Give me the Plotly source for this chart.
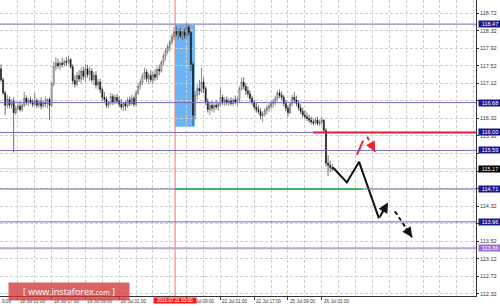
import plotly.graph_objects as go

# ---------------- data (USDJPY H1) ----------------
opens = [117.45,117.20,116.90,116.62,116.75,116.62,116.72,116.45,116.55,116.60,
         116.52,116.62,116.78,116.68,116.74,116.70,116.64,116.72,116.62,116.70,
         116.60,116.68,116.66,116.75,116.62,117.10,117.50,117.58,117.52,117.58,
         117.55,117.62,117.60,117.66,117.50,117.18,117.10,117.30,117.22,117.40,
         117.28,117.45,117.32,117.40,117.20,117.30,117.08,117.15,116.98,116.80,
         116.75,116.62,116.68,116.82,116.70,116.80,116.72,116.64,116.58,116.66,
         116.60,116.74,116.66,116.78,116.64,116.90,117.05,117.15,117.28,117.38,
         117.22,117.30,117.20,117.32,117.26,117.44,117.40,117.60,117.74,117.86,
         117.95,118.06,118.18,118.30,118.24,118.30,118.20,118.28,118.22,118.40,
         118.28,117.55,116.40,116.85,117.00,116.95,117.15,117.00,116.70,116.52,
         116.62,116.55,116.62,116.58,116.65,116.80,116.70,116.74,116.68,116.72,
         116.66,116.74,116.70,116.76,117.00,117.15,117.05,116.95,116.88,116.78,
         116.68,116.58,116.52,116.48,116.38,116.42,116.50,116.56,116.60,116.66,
         116.70,116.78,116.90,116.84,116.80,116.66,116.55,116.45,116.65,116.80,
         116.74,116.66,116.56,116.48,116.40,116.36,116.32,116.28,116.24,116.22,
         116.28,116.20,116.24,116.28,116.05,115.30,115.25,115.20]
highs = [117.55,117.25,116.95,116.85,116.82,116.75,116.80,116.62,116.70,116.72,
         116.66,116.92,116.85,116.78,116.82,116.76,116.90,116.78,116.75,116.80,
         116.74,116.82,116.78,116.80,117.15,117.62,117.72,117.68,117.62,117.70,
         117.66,117.72,117.74,117.70,117.55,117.30,117.38,117.42,117.48,117.50,
         117.56,117.54,117.50,117.46,117.38,117.40,117.22,117.22,117.02,116.92,
         116.82,116.72,116.90,116.88,116.86,116.88,116.82,116.76,116.70,116.72,
         116.80,116.82,116.86,116.84,116.96,117.12,117.22,117.34,117.48,117.45,
         117.36,117.42,117.38,117.44,117.50,117.55,117.65,117.80,117.92,118.02,
         118.12,118.25,118.40,118.42,118.36,118.38,118.34,118.36,118.50,118.46,
         118.32,117.60,116.95,117.10,117.20,117.48,117.25,117.05,116.78,116.70,
         116.72,116.68,116.74,116.70,117.02,116.86,116.80,116.82,116.78,116.80,
         116.78,116.84,116.80,117.05,117.25,117.26,117.12,117.05,116.96,116.84,
         116.74,116.68,116.62,116.56,116.48,116.55,116.62,116.66,116.72,116.76,
         116.84,116.96,116.98,116.94,116.86,116.74,116.62,116.70,116.86,116.92,
         116.84,116.74,116.64,116.56,116.50,116.45,116.40,116.36,116.32,116.34,
         116.36,116.30,116.34,116.30,116.10,115.48,115.36,115.28]
lows = [117.15,116.85,116.40,116.55,116.55,116.55,115.54,116.40,116.50,116.48,
        116.47,116.58,116.62,116.60,116.64,116.58,116.60,116.55,116.57,116.52,
        116.56,116.58,116.55,116.28,116.58,117.05,117.40,117.45,117.42,117.48,
        117.50,117.52,117.55,117.45,117.10,117.02,117.05,117.15,117.12,117.20,
        117.15,117.25,117.18,117.14,117.08,117.00,116.98,116.90,116.72,116.68,
        116.55,116.55,116.62,116.62,116.64,116.66,116.58,116.52,116.48,116.50,
        116.56,116.60,116.62,116.58,116.60,116.86,116.98,117.08,117.20,117.15,
        117.10,117.14,117.10,117.18,117.20,117.30,117.36,117.52,117.64,117.78,
        117.86,118.00,118.10,118.18,118.12,118.15,118.10,118.14,118.16,118.20,
        117.40,116.15,116.30,116.75,116.85,116.90,116.90,116.62,116.45,116.40,
        116.48,116.45,116.52,116.50,116.60,116.62,116.60,116.62,116.60,116.62,
        116.60,116.64,116.60,116.70,116.95,116.98,116.85,116.80,116.70,116.62,
        116.52,116.45,116.42,116.30,116.24,116.36,116.40,116.46,116.52,116.56,
        116.62,116.72,116.78,116.74,116.60,116.48,116.36,116.42,116.60,116.68,
        116.60,116.50,116.42,116.34,116.30,116.26,116.22,116.18,116.16,116.18,
        116.16,116.14,116.18,116.00,115.22,115.00,115.10,115.12]
closes = [117.20,116.90,116.62,116.75,116.62,116.68,116.45,116.55,116.60,116.52,
          116.62,116.78,116.68,116.74,116.70,116.64,116.72,116.62,116.70,116.60,
          116.68,116.66,116.75,116.62,117.10,117.50,117.58,117.52,117.58,117.55,
          117.62,117.60,117.66,117.50,117.18,117.10,117.30,117.22,117.40,117.28,
          117.45,117.32,117.40,117.20,117.30,117.08,117.15,116.98,116.80,116.75,
          116.62,116.68,116.82,116.70,116.80,116.72,116.64,116.58,116.66,116.60,
          116.74,116.66,116.78,116.64,116.90,117.05,117.15,117.28,117.38,117.22,
          117.30,117.20,117.32,117.26,117.44,117.40,117.60,117.74,117.86,117.95,
          118.06,118.18,118.30,118.24,118.30,118.20,118.28,118.22,118.40,118.28,
          117.55,116.40,116.85,117.00,116.95,117.15,117.00,116.70,116.52,116.62,
          116.55,116.62,116.58,116.65,116.80,116.70,116.74,116.68,116.72,116.66,
          116.74,116.70,116.76,117.00,117.15,117.05,116.95,116.88,116.78,116.68,
          116.58,116.52,116.48,116.38,116.42,116.50,116.56,116.60,116.66,116.70,
          116.78,116.90,116.84,116.80,116.66,116.55,116.45,116.65,116.80,116.74,
          116.66,116.56,116.48,116.40,116.36,116.32,116.28,116.24,116.22,116.28,
          116.20,116.24,116.28,116.05,115.30,115.25,115.20,115.17]
bars = list(range(len(closes)))

price_ticks = [112.32, 112.72, 113.12, 113.52, 113.92, 114.32, 114.72, 115.12,
               115.52, 115.92, 116.32, 116.72, 117.12, 117.52, 117.92, 118.32, 118.72]
date_tick_bars = [8, 24, 40, 56, 88, 104, 120, 136, 152]
date_tick_labels = ["18 Jul 01:00", "18 Jul 17:00", "19 Jul 09:00", "20 Jul 01:00",
                    "21 Jul 09:00", "22 Jul 01:00", "22 Jul 17:00", "25 Jul 09:00",
                    "26 Jul 01:00"]
edge_label = "9:00"   # tail of the label cut off at the left edge

levels = [118.47, 116.68, 116.00, 115.59, 114.71, 113.96]
purple_level = 113.36
bid_price = 115.17
vline_bar = 82.5
vline_label = "2016.07.21 03:00"
box_bars = [82.5, 91.9]
box_prices = [116.13, 118.45]
red_level = 116.00
red_level_start = 147.9
green_level = 114.71
green_span = [82.5, 171.6]

fc_x = [157.3, 163.9, 169.7, 179.1]
fc_y = [115.20, 114.86, 115.33, 114.04]
fc_up_x = [179.1, 183.4]
fc_up_y = [114.04, 114.40]
fc_dn_x = [186.7, 194.8]
fc_dn_y = [114.20, 113.61]
red_x = [168.7, 171.6]
red_y = [115.49, 115.81]
red_arr_x = [173.5, 177.3]
red_arr_y = [115.90, 115.56]

x_range = [-0.47, 225.1]
y_range = [112.27, 119.02]

# ---------------- figure ----------------
fig = go.Figure()
fig.add_trace(go.Candlestick(
    x=bars, open=opens, high=highs, low=lows, close=closes,
    increasing=dict(line=dict(color="#444444", width=0.6), fillcolor="#ffffff"),
    decreasing=dict(line=dict(color="#111111", width=0.6), fillcolor="#111111"),
    whiskerwidth=0, hoverinfo="skip", showlegend=False))

fig.add_trace(go.Scatter(x=fc_x, y=fc_y, mode="lines",
                         line=dict(color="#111111", width=2),
                         hoverinfo="skip", showlegend=False))
fig.add_trace(go.Scatter(x=fc_dn_x, y=fc_dn_y, mode="lines",
                         line=dict(color="#111111", width=2, dash="4px,3px"),
                         hoverinfo="skip", showlegend=False))
fig.add_trace(go.Scatter(x=red_x, y=red_y, mode="lines",
                         line=dict(color="#ee2233", width=2),
                         hoverinfo="skip", showlegend=False))
fig.add_trace(go.Scatter(x=red_arr_x, y=red_arr_y, mode="lines",
                         line=dict(color="#ee2233", width=2, dash="4px,3px"),
                         hoverinfo="skip", showlegend=False))

shapes = []
shapes.append(dict(type="rect", xref="x", yref="y", x0=box_bars[0], x1=box_bars[1],
                   y0=box_prices[0], y1=box_prices[1], fillcolor="#6db4f7",
                   line=dict(width=0), layer="below"))
shapes.append(dict(type="line", xref="paper", yref="y", x0=0, x1=1, y0=bid_price, y1=bid_price,
                   line=dict(color="#cccccc", width=1), layer="below"))
shapes.append(dict(type="line", xref="x", yref="paper", x0=vline_bar, x1=vline_bar, y0=0, y1=1,
                   line=dict(color="#ff6b6b", width=1)))
for lv in levels:
    shapes.append(dict(type="line", xref="paper", yref="y", x0=0, x1=1, y0=lv, y1=lv,
                       line=dict(color="#6b6bc2", width=1)))
shapes.append(dict(type="line", xref="paper", yref="y", x0=0, x1=1, y0=purple_level, y1=purple_level,
                   line=dict(color="#bda2df", width=2)))
shapes.append(dict(type="line", xref="x", yref="y", x0=red_level_start, x1=x_range[1],
                   y0=red_level, y1=red_level, line=dict(color="#dc1f3c", width=2)))
shapes.append(dict(type="line", xref="x", yref="y", x0=green_span[0], x1=green_span[1],
                   y0=green_level, y1=green_level, line=dict(color="#45b862", width=2)))

annotations = []
def arrow(xs, ys, color, frac):
    sx = xs[0] + frac * (xs[1] - xs[0])
    sy = ys[0] + frac * (ys[1] - ys[0])
    return dict(x=xs[1], y=ys[1], ax=sx, ay=sy, xref="x", yref="y", axref="x", ayref="y",
                showarrow=True, arrowhead=2, arrowsize=1, arrowwidth=2,
                arrowcolor=color, text="")
annotations.append(arrow(fc_up_x, fc_up_y, "#111111", 0.0))
annotations.append(arrow(fc_dn_x, fc_dn_y, "#111111", 0.6))
annotations.append(arrow(red_arr_x, red_arr_y, "#ee2233", 0.5))

# date labels
annotations.append(dict(x=0, y=0, xref="paper", yref="paper", xanchor="left", yanchor="top",
                        yshift=-1, text=edge_label, showarrow=False,
                        font=dict(size=4.6, color="#333333")))
for b, t in zip(date_tick_bars, date_tick_labels):
    annotations.append(dict(x=b, y=0, xref="x", yref="paper", xanchor="left", yanchor="top",
                            yshift=-1, text=t, showarrow=False,
                            font=dict(size=4.6, color="#333333")))
annotations.append(dict(x=vline_bar, y=0, xref="x", yref="paper", xanchor="center", yanchor="top",
                        yshift=-1, text=vline_label, showarrow=False, bgcolor="#ff1a1a",
                        borderpad=0, width=42, font=dict(size=4.6, color="#ffffff")))

# price labels
def plabel(p, bg):
    return dict(x=1, y=p, xref="paper", yref="y", xanchor="left", yanchor="middle",
                xshift=2, text=f"{p:.2f}", showarrow=False, bgcolor=bg, borderpad=0,
                width=22, height=6, font=dict(size=5.5, color="#ffffff"))
for lv in levels:
    annotations.append(plabel(lv, "#1a1a8c"))
annotations.append(plabel(purple_level, "#9a72cf"))
annotations.append(plabel(bid_price, "#000000"))

# watermark
annotations.append(dict(x=8 / 476, y=(296 - 282) / 296, xref="paper", yref="paper",
                        xanchor="left", yanchor="top",
                        text="[ www.instaforex<span style='font-size:7px'>.com</span> ]",
                        showarrow=False, bgcolor="rgba(210,60,60,0.8)", borderpad=0,
                        width=120, height=17, font=dict(size=9, color="#ffffff",
                                                         family="Open Sans, Liberation Sans")))

covered = [116.72, 115.52, 115.12, 114.72, 113.92]
tick_text = ["" if v in covered else f"{v:.2f}" for v in price_ticks]

fig.update_layout(
    width=500, height=308,
    margin=dict(l=0, r=24, t=0, b=12),
    paper_bgcolor="#ffffff", plot_bgcolor="#ffffff",
    font=dict(family="Liberation Sans, Arial", size=6, color="#333333"),
    showlegend=False,
    shapes=shapes, annotations=annotations,
    xaxis=dict(range=x_range, rangeslider=dict(visible=False), tickmode="array",
               tickvals=date_tick_bars, ticktext=[""] * len(date_tick_bars),
               ticks="outside", ticklen=3, tickcolor="#333333",
               showgrid=True, gridcolor="#cfcfcf", griddash="3px,2px", gridwidth=1,
               minor=dict(dtick=8, tick0=0, showgrid=True, gridcolor="#cfcfcf",
                          griddash="3px,2px", gridwidth=1),
               showline=True, linecolor="#333333", linewidth=1, zeroline=False,
               fixedrange=True),
    yaxis=dict(range=y_range, side="right", tickmode="array", tickvals=price_ticks,
               ticktext=tick_text,
               ticks="outside", ticklen=2, tickcolor="#333333",
               tickfont=dict(size=5.5, color="#333333"),
               showgrid=True, gridcolor="#cfcfcf", griddash="3px,2px", gridwidth=1,
               showline=True, linecolor="#333333", linewidth=1, zeroline=False,
               fixedrange=True),
)

fig.write_html("out.html")
